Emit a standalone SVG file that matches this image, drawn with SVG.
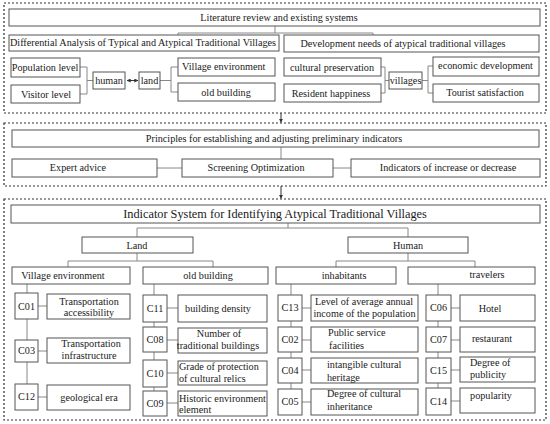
<svg xmlns="http://www.w3.org/2000/svg" width="550" height="424" viewBox="0 0 550 424" font-family="'Liberation Serif', 'Times New Roman', serif">
<defs>
<style>
.frame{fill:none;stroke:#333;stroke-width:1.2;stroke-dasharray:2 2}
.box{fill:#fff;stroke:#555;stroke-width:1}
.con{fill:none;stroke:#888;stroke-width:1}
.dark{fill:none;stroke:#333;stroke-width:1}
text{font-family:'Liberation Serif','Times New Roman',serif;font-size:10.2px;fill:#1a1a1a}
.c{text-anchor:middle}
.title{font-size:12.3px}
</style>
<marker id="ah" viewBox="0 0 6 6" refX="5.5" refY="3" markerWidth="4" markerHeight="4" orient="auto-start-reverse">
<path d="M0,0 L6,3 L0,6 z" fill="#333"/>
</marker>
</defs>
<rect class="frame" x="4" y="3" width="542" height="110"/>
<rect class="frame" x="4" y="123" width="542" height="63"/>
<rect class="frame" x="4" y="199" width="542" height="221"/>
<g id="connectors">
<path class="con" d="M275,26 V33 M178,33 H373 M178,33 V35 M373,33 V35"/>
<path class="con" d="M80,67 H87 M80,94 H87 M87,67 V94 M87,80.5 H93"/>
<line class="dark" x1="127" y1="80.5" x2="138" y2="80.5" marker-start="url(#ah)" marker-end="url(#ah)"/>
<path class="con" d="M160,80.5 H171 M171,67 V92 M171,67 H178 M171,92 H178"/>
<path class="con" d="M381,67 H385 M381,93 H385 M385,67 V93 M385,80.5 H389"/>
<path class="con" d="M422,80.5 H428 M428,66 V93 M428,66 H433 M428,93 H433"/>
<line class="dark" x1="281" y1="113" x2="281" y2="122.5" marker-end="url(#ah)"/>
<path class="con" d="M281,147 V159 M157,168 H182 M333,168 H351"/>
<line class="dark" x1="281" y1="186" x2="281" y2="198.5" marker-end="url(#ah)"/>
<path class="con" d="M288,223 V228 M137,228 H408 M137,228 V237 M408,228 V237"/>
<path class="con" d="M137,253 V261 M68,261 H213 M68,261 V267 M213,261 V267"/>
<path class="con" d="M408,253 V261 M336,261 H475 M336,261 V267 M475,261 V267"/>
<path class="con" d="M27,284 V384 M38,306 H47 M38,351 H47 M38,397 H47"/>
<path class="con" d="M154,284 V391 M167,308 H178 M167,340 H178 M167,373 H178 M167,403 H178"/>
<path class="con" d="M291,284 V389 M302,308 H311 M302,340 H311 M302,370 H311 M302,402 H311"/>
<path class="con" d="M438,284 V388 M451,308 H460 M451,340 H460 M451,370 H460 M451,401 H460"/>
</g>
<g id="lit"><rect class="box" x="9" y="9" width="531" height="17"/><text class="c" x="279" y="21">Literature review and existing systems</text></g>
<g id="diff"><rect class="box" x="9" y="35" width="270" height="16"/><text class="c" x="143" y="46">Differential Analysis of Typical and Atypical Traditional Villages</text></g>
<g id="dev"><rect class="box" x="284" y="35" width="255" height="17"/><text class="c" x="403" y="47">Development needs of atypical traditional villages</text></g>
<g id="pop"><rect class="box" x="11" y="58" width="69" height="19"/><text class="c" x="45" y="71">Population level</text></g>
<g id="vis"><rect class="box" x="11" y="85" width="69" height="18"/><text class="c" x="46" y="98">Visitor level</text></g>
<g id="human1"><rect class="box" x="93" y="72" width="32" height="17"/><text class="c" x="109" y="84">human</text></g>
<g id="land1"><rect class="box" x="139" y="72" width="21" height="17"/><text class="c" x="149.5" y="84">land</text></g>
<g id="venv1"><rect class="box" x="178" y="58" width="97" height="18"/><text x="182" y="70">Village environment</text></g>
<g id="oldb1"><rect class="box" x="178" y="83" width="97" height="18"/><text class="c" x="226" y="96">old building</text></g>
<g id="cult"><rect class="box" x="284" y="58" width="97" height="18"/><text class="c" x="332" y="71">cultural preservation</text></g>
<g id="res"><rect class="box" x="284" y="84" width="97" height="18"/><text class="c" x="331" y="97">Resident happiness</text></g>
<g id="vill"><rect class="box" x="389" y="72" width="33" height="17"/><text class="c" x="405.5" y="84">villages</text></g>
<g id="econ"><rect class="box" x="433" y="57" width="106" height="19"/><text class="c" x="485.5" y="69">economic development</text></g>
<g id="tour"><rect class="box" x="433" y="84" width="106" height="18"/><text class="c" x="485" y="96">Tourist satisfaction</text></g>
<g id="princ"><rect class="box" x="12" y="130" width="527" height="17"/><text class="c" x="274" y="142">Principles for establishing and adjusting preliminary indicators</text></g>
<g id="expert"><rect class="box" x="12" y="159" width="145" height="18"/><text class="c" x="78" y="171">Expert advice</text></g>
<g id="screen"><rect class="box" x="182" y="159" width="151" height="18"/><text class="c" x="256" y="171">Screening Optimization</text></g>
<g id="indic"><rect class="box" x="351" y="159" width="189" height="18"/><text class="c" x="448" y="171">Indicators of increase or decrease</text></g>
<g id="title"><rect class="box" x="11" y="205" width="529" height="18"/><text class="c title" x="275" y="218">Indicator System for Identifying Atypical Traditional Villages</text></g>
<g id="land2"><rect class="box" x="82" y="237" width="111" height="16"/><text class="c" x="137" y="249">Land</text></g>
<g id="human2"><rect class="box" x="348" y="237" width="120" height="16"/><text class="c" x="408" y="249">Human</text></g>
<g id="venv2"><rect class="box" x="12" y="267" width="118" height="17"/><text class="c" x="63" y="279">Village environment</text></g>
<g id="oldb2"><rect class="box" x="143" y="267" width="125" height="17"/><text class="c" x="208" y="279">old building</text></g>
<g id="inhab"><rect class="box" x="276" y="267" width="120" height="17"/><text class="c" x="344" y="279">inhabitants</text></g>
<g id="trav"><rect class="box" x="408" y="267" width="127" height="17"/><text class="c" x="487" y="278">travelers</text></g>
<g id="c01"><rect class="box" x="15" y="293" width="23" height="26"/><text class="c" x="26.5" y="310">C01</text></g>
<g id="c01d"><rect class="box" x="47" y="294" width="83" height="25"/><text class="c" x="89" y="305">Transportation</text><text class="c" x="89" y="316">accessibility</text></g>
<g id="c03"><rect class="box" x="15" y="340" width="23" height="22"/><text class="c" x="26.5" y="354">C03</text></g>
<g id="c03d"><rect class="box" x="47" y="338" width="83" height="25"/><text class="c" x="91" y="347">Transportation</text><text class="c" x="89" y="359">infrastructure</text></g>
<g id="c12"><rect class="box" x="15" y="384" width="23" height="26"/><text class="c" x="26.5" y="400">C12</text></g>
<g id="c12d"><rect class="box" x="47" y="385" width="83" height="25"/><text class="c" x="89" y="401">geological era</text></g>
<g id="c11"><rect class="box" x="143" y="295" width="24" height="27"/><text class="c" x="155" y="312">C11</text></g>
<g id="c11d"><rect class="box" x="178" y="295" width="89" height="27"/><text class="c" x="218" y="312">building density</text></g>
<g id="c08"><rect class="box" x="143" y="327" width="24" height="25"/><text class="c" x="155" y="343">C08</text></g>
<g id="c08d"><rect class="box" x="178" y="328" width="89" height="25"/><text class="c" x="219" y="337">Number of</text><text class="c" x="218" y="349">traditional buildings</text></g>
<g id="c10"><rect class="box" x="143" y="360" width="24" height="27"/><text class="c" x="155" y="377">C10</text></g>
<g id="c10d"><rect class="box" x="178" y="361" width="89" height="24"/><text x="179" y="370">Grade of protection</text><text x="179" y="382">of cultural relics</text></g>
<g id="c09"><rect class="box" x="143" y="391" width="24" height="25"/><text class="c" x="155" y="407">C09</text></g>
<g id="c09d"><rect class="box" x="178" y="391" width="89" height="25"/><text x="179" y="402">Historic environment</text><text x="179" y="413">element</text></g>
<g id="c13"><rect class="box" x="278" y="295" width="24" height="26"/><text class="c" x="290" y="311">C13</text></g>
<g id="c13d"><rect class="box" x="311" y="295" width="107" height="26"/><text class="c" x="364" y="305">Level of average annual</text><text class="c" x="364.5" y="317">income of the population</text></g>
<g id="c02"><rect class="box" x="278" y="327" width="24" height="25"/><text class="c" x="290" y="343">C02</text></g>
<g id="c02d"><rect class="box" x="311" y="327" width="107" height="25"/><text x="328" y="336">Public service</text><text x="329" y="349">facilities</text></g>
<g id="c04"><rect class="box" x="278" y="358" width="24" height="25"/><text class="c" x="290" y="374">C04</text></g>
<g id="c04d"><rect class="box" x="311" y="358" width="107" height="25"/><text x="327" y="368">intangible cultural</text><text x="327" y="381">heritage</text></g>
<g id="c05"><rect class="box" x="278" y="389" width="24" height="26"/><text class="c" x="290" y="405">C05</text></g>
<g id="c05d"><rect class="box" x="311" y="389" width="107" height="26"/><text x="327" y="397">Degree of cultural</text><text x="327" y="410">inheritance</text></g>
<g id="c06"><rect class="box" x="426" y="295" width="25" height="26"/><text class="c" x="438.5" y="311">C06</text></g>
<g id="c06d"><rect class="box" x="460" y="295" width="75" height="26"/><text class="c" x="490" y="312">Hotel</text></g>
<g id="c07"><rect class="box" x="426" y="327" width="25" height="25"/><text class="c" x="438.5" y="343">C07</text></g>
<g id="c07d"><rect class="box" x="460" y="327" width="75" height="25"/><text class="c" x="492" y="342">restaurant</text></g>
<g id="c15"><rect class="box" x="426" y="358" width="25" height="25"/><text class="c" x="438.5" y="374">C15</text></g>
<g id="c15d"><rect class="box" x="460" y="357" width="75" height="25"/><text x="470" y="366">Degree of</text><text x="470" y="378">publicity</text></g>
<g id="c14"><rect class="box" x="426" y="388" width="25" height="27"/><text class="c" x="438.5" y="405">C14</text></g>
<g id="c14d"><rect class="box" x="460" y="388" width="75" height="25"/><text class="c" x="491" y="399">popularity</text></g>
</svg>
